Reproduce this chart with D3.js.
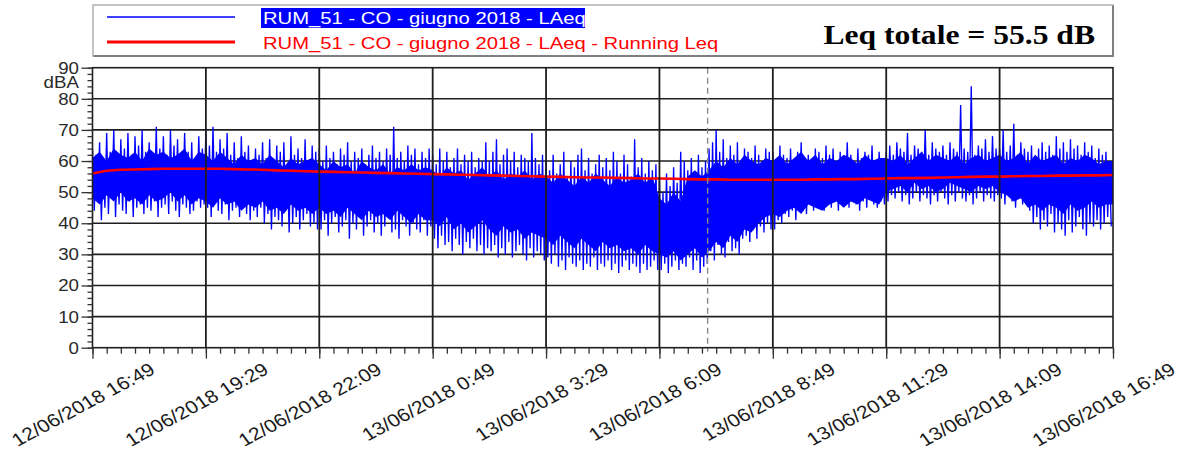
<!DOCTYPE html>
<html><head><meta charset="utf-8">
<script src="https://cdn.jsdelivr.net/npm/d3@7"></script>
<style>body{margin:0;background:#fff;} svg{display:block;}</style>
</head><body><svg id="c" width="1182" height="452"></svg>
<script>
// ---------------- DATA ----------------
const startTime = "12/06/2018 16:49";
const endTime = "13/06/2018 16:49";
const stepMinutes = 5;          // blue series: one max + one min per 5-minute block
const laeqHigh = [
64,62,66,60,69,63,70,61,67,64,69,62,68,65,70,63,
66,61,71,64,68,62,70,65,67,60,69,63,66,61,68,64,
70,65,71,63,67,64,69,62,66,61,68,63,65,60,64,62,
66,61,67,60,65,63,66,59,68,62,64,61,67,60,65,63,
64,60,65,61,63,59,64,62,66,60,63,61,64,59,62,65,
61,63,60,64,62,71,61,63,60,65,62,64,59,63,61,64,
62,59,64,60,63,58,61,64,59,62,60,63,58,61,60,66,
60,63,67,59,62,64,60,63,58,62,61,60,69,61,59,62,
60,57,62,56,59,63,55,60,58,62,64,57,61,56,59,62,
58,61,57,63,60,56,62,59,55,67,58,61,56,60,57,59,
54,50,56,52,58,53,63,60,57,61,55,62,58,60,64,66,
70,63,67,61,65,62,66,60,64,63,61,65,62,60,64,63,
63,60,65,62,61,64,59,63,66,61,62,60,64,63,61,65,
62,64,60,63,61,66,62,60,64,61,63,62,65,60,63,61,
63,65,62,66,64,63,69,62,65,64,63,70,62,66,64,63,
65,62,66,64,63,78,64,63,84,62,65,64,67,63,68,64,
64,70,63,65,72,62,66,64,63,65,61,64,66,63,65,62,
68,64,66,63,67,64,65,62,66,63,65,61,64,62,63,60];
const laeqLow = [
44,47,41,45,43,48,42,46,44,43,47,42,45,46,43,45,
44,47,42,45,46,43,47,44,42,46,45,43,44,47,45,46,
45,42,47,44,43,46,41,44,45,42,46,43,41,44,42,45,
40,43,38,42,41,39,44,37,40,42,38,41,43,39,40,38,
38,41,36,40,42,37,39,41,35,40,38,42,36,39,41,37,
40,36,39,42,37,38,35,41,39,36,40,38,37,41,36,39,
35,32,36,33,34,31,35,33,30,34,32,35,31,33,30,32,
31,33,29,32,30,34,29,31,33,30,28,32,29,31,30,28,
29,27,30,26,28,25,29,27,26,28,25,27,26,29,25,27,
26,28,25,27,24,26,28,25,27,26,24,27,25,26,28,25,
25,27,24,26,28,25,27,26,29,25,28,24,26,27,31,28,
33,30,29,34,31,32,30,35,36,34,38,35,39,37,40,38,
38,41,40,43,42,44,41,45,44,43,46,44,45,47,44,46,
45,47,44,46,48,45,47,46,44,47,45,48,46,45,47,46,
47,49,48,50,47,49,46,48,50,47,49,48,46,49,47,50,
48,46,49,47,50,48,47,49,46,48,50,47,49,48,47,49,
48,46,49,47,45,48,46,47,44,40,42,38,41,39,43,37,
40,38,36,41,37,39,42,38,36,40,39,41,38,40,42,39];
const coreStepMinutes = 10;     // dense (solid) part of the blue trace, every 10 minutes
const coreHigh = [
61,63,60,64,62,61,63,60,64,62,63,61,62,64,60,63,
62,60,63,61,59,62,60,61,59,62,60,58,61,59,60,61,
59,57,60,58,59,56,60,58,57,59,56,58,57,59,57,58,
57,55,58,56,57,54,56,58,55,57,54,56,55,57,54,56,
55,53,56,54,52,55,53,56,54,52,55,53,54,56,53,55,
48,46,50,47,55,57,55,57,60,58,61,59,62,60,59,61,
60,62,59,61,63,60,62,59,61,60,62,61,59,62,60,61,
61,60,62,59,61,63,60,62,61,60,62,59,61,62,60,61,
62,60,61,63,59,62,60,61,62,59,61,60,62,61,59,60,60];
const coreLow = [
48,46,49,47,50,47,48,46,49,47,48,50,47,49,46,48,
47,45,48,46,47,44,46,45,47,44,45,43,46,44,45,43,
45,43,44,42,45,43,41,44,42,43,41,44,42,40,43,41,
41,39,42,38,40,37,39,41,38,36,39,37,38,35,37,36,
35,33,36,34,32,35,33,31,34,32,33,31,32,30,33,31,
30,29,31,28,30,32,29,31,34,32,36,34,38,37,40,42,
43,42,44,45,43,46,45,44,46,47,45,47,46,48,47,46,
50,51,52,50,53,51,52,50,51,53,52,51,50,52,51,52,
50,49,47,48,45,46,44,46,45,43,46,44,45,47,45,46,46];
const runStepMinutes = 20;      // running Leq, every 20 minutes
const runningLeq = [
56.0,56.9,57.2,57.3,57.4,57.5,57.5,57.5,
57.5,57.5,57.4,57.3,57.2,57.0,56.9,56.7,
56.6,56.5,56.4,56.3,56.2,56.1,56.0,55.9,
55.8,55.7,55.6,55.5,55.4,55.3,55.2,55.1,
55.0,54.9,54.8,54.7,54.7,54.6,54.5,54.4,
54.4,54.3,54.2,54.1,54.1,54.0,54.0,54.0,
54.0,54.0,54.0,54.1,54.1,54.2,54.2,54.3,
54.4,54.5,54.5,54.6,54.7,54.8,54.9,55.0,
55.0,55.1,55.2,55.2,55.3,55.3,55.4,55.4,55.5];
const xTickLabels = ["12/06/2018 16:49","12/06/2018 19:29","12/06/2018 22:09","13/06/2018 0:49",
  "13/06/2018 3:29","13/06/2018 6:09","13/06/2018 8:49","13/06/2018 11:29","13/06/2018 14:09","13/06/2018 16:49"];
const xMinorStepMinutes = 20;
const yTicks = [0,10,20,30,40,50,60,70,80,90];
const yMinorStep = 2;
const yUnit = "dBA";
const markerTime = "13/06/2018 7:17";
const legendLabels = ["RUM_51 - CO - giugno 2018 - LAeq", "RUM_51 - CO - giugno 2018 - LAeq - Running Leq"];
const totalLabel = "Leq totale = 55.5 dB";

// ---------------- CHART ----------------
const SX = 1.17; // horizontal stretch of the original picture's text
const parse = d3.timeParse("%d/%m/%Y %H:%M");
const t0 = parse(startTime), t1 = parse(endTime);
const svg = d3.select("#c");
const L = 92.5, R = 1113, T = 67.7, B = 347.7;
const x = d3.scaleTime().domain([t0, t1]).range([L, R]);
const y = d3.scaleLinear().domain([0, 90]).range([B, T]);
const addMin = (d, m) => new Date(d.getTime() + m * 60000);
const gridCol = "#1e1e1e";

function sText(g, tx, ty, str, opt) {
  const t = g.append("text").attr("transform", `translate(${tx},${ty}) scale(${SX},1)` + (opt.rot ? ` rotate(${opt.rot})` : ""))
    .attr("font-family", opt.family || "'Liberation Sans', Arial, sans-serif")
    .attr("font-size", opt.size).attr("fill", opt.fill || "#222")
    .attr("text-anchor", opt.anchor || "start").text(str);
  if (opt.weight) t.attr("font-weight", opt.weight);
  return t;
}

// legend box
const lg = svg.append("g");
lg.append("rect").attr("x", 93).attr("y", 5).attr("width", 1020).attr("height", 51)
  .attr("fill", "#fff").attr("stroke", "#b0b0b0").attr("stroke-width", 1.5);
lg.append("path").attr("d", "M1113,5.5V56H93.5").attr("fill", "none").attr("stroke", "#808080").attr("stroke-width", 2);
lg.append("line").attr("x1", 107).attr("x2", 235).attr("y1", 17).attr("y2", 17).attr("stroke", "#0000ff").attr("stroke-width", 1.5);
lg.append("line").attr("x1", 107).attr("x2", 235).attr("y1", 42).attr("y2", 42).attr("stroke", "#ff0000").attr("stroke-width", 3);
lg.append("rect").attr("x", 261).attr("y", 8).attr("width", 324).attr("height", 20).attr("fill", "#0000ff");
sText(lg, 263, 23.5, legendLabels[0], {size: 17.3, fill: "#fff"});
sText(lg, 263, 48.5, legendLabels[1], {size: 17.3, fill: "#ff0000"});
sText(lg, 1095, 44, totalLabel, {size: 27, weight: "bold", fill: "#000", anchor: "end", family: "'Liberation Serif', 'Times New Roman', serif"});

// horizontal grid (under data)
const yGrid = yTicks.filter(v => v > 0 && v < 90);
svg.append("g").selectAll("line").data(yGrid).join("line")
  .attr("x1", L).attr("x2", R).attr("y1", d => y(d)).attr("y2", d => y(d))
  .attr("stroke", gridCol).attr("stroke-width", 1.6);

// clip
svg.append("clipPath").attr("id", "clip").append("rect").attr("x", L).attr("y", T).attr("width", R - L).attr("height", B - T);
const plot = svg.append("g").attr("clip-path", "url(#clip)");

// dense core of the blue trace
const band = coreHigh.map((h, i) => ({t: addMin(t0, i * coreStepMinutes), h, l: coreLow[i]}));
plot.append("path").datum(band)
  .attr("d", d3.area().x(d => x(d.t)).y0(d => y(d.l)).y1(d => y(d.h)))
  .attr("fill", "#0000ff");

// blue LAeq trace: max then min of each block
const pts = [];
laeqHigh.forEach((h, i) => {
  pts.push({t: addMin(t0, i * stepMinutes), v: h});
  pts.push({t: addMin(t0, i * stepMinutes + stepMinutes / 2), v: laeqLow[i]});
});
plot.append("path").datum(pts)
  .attr("d", d3.line().x(d => x(d.t)).y(d => y(d.v)))
  .attr("fill", "none").attr("stroke", "#0000ff").attr("stroke-width", 1.35).attr("stroke-linejoin", "miter");

// running Leq
const run = runningLeq.map((v, i) => ({t: addMin(t0, i * runStepMinutes), v}));
plot.append("path").datum(run)
  .attr("d", d3.line().x(d => x(d.t)).y(d => y(d.v)))
  .attr("fill", "none").attr("stroke", "#ff0000").attr("stroke-width", 2.6);

// vertical grid (over data)
const xMajor = xTickLabels.map(parse);
svg.append("g").selectAll("line").data(xMajor.slice(1, -1)).join("line")
  .attr("x1", d => x(d)).attr("x2", d => x(d)).attr("y1", T).attr("y2", B)
  .attr("stroke", gridCol).attr("stroke-width", 1.8);

// marker
const mt = parse(markerTime);
svg.append("line").attr("x1", x(mt)).attr("x2", x(mt)).attr("y1", T).attr("y2", B + 4)
  .attr("stroke", "#8a8a8a").attr("stroke-width", 1.4).attr("stroke-dasharray", "6,4");

// frame
svg.append("rect").attr("x", L).attr("y", T).attr("width", R - L).attr("height", B - T)
  .attr("fill", "none").attr("stroke", gridCol).attr("stroke-width", 1.6);

// x axis
const xMinor = d3.range(0, 1440 + 1, xMinorStepMinutes).map(m => addMin(t0, m));
const gxm = svg.append("g").attr("transform", `translate(0,${B})`)
  .call(d3.axisBottom(x).tickValues(xMinor).tickSize(6).tickFormat(""));
const gx = svg.append("g").attr("transform", `translate(0,${B})`)
  .call(d3.axisBottom(x).tickValues(xMajor).tickSize(11).tickFormat(""));
[gxm, gx].forEach(g => { g.select(".domain").remove(); g.selectAll("line").attr("stroke", "#333").attr("stroke-width", 1.3); });
const xl = svg.append("g");
xMajor.forEach((d, i) => {
  sText(xl, x(d) + 64, B + 25, xTickLabels[i], {size: 18, anchor: "end", rot: -32, fill: "#1a1a1a"});
});

// y axis
const yMinor = d3.range(0, 90 + 0.1, yMinorStep);
const gym = svg.append("g").attr("transform", `translate(${L},0)`)
  .call(d3.axisLeft(y).tickValues(yMinor).tickSize(5).tickFormat(""));
const gy = svg.append("g").attr("transform", `translate(${L},0)`)
  .call(d3.axisLeft(y).tickValues(yTicks).tickSize(11).tickFormat(""));
[gym, gy].forEach(g => { g.select(".domain").remove(); g.selectAll("line").attr("stroke", "#333").attr("stroke-width", 1.3); });
const yl = svg.append("g");
yTicks.forEach(v => sText(yl, 79, y(v) + 6, String(v), {size: 16, anchor: "end", fill: "#2a2a2a"}));
sText(yl, 79, y(90) + 20, yUnit, {size: 16, anchor: "end", fill: "#2a2a2a"});
</script></body></html>
